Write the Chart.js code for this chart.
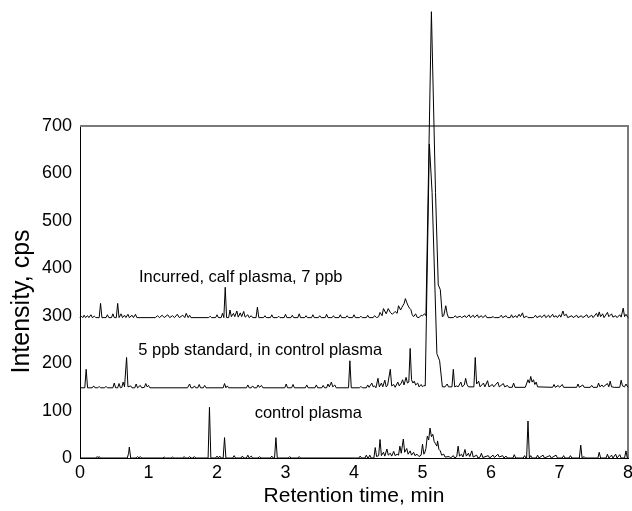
<!DOCTYPE html>
<html>
<head>
<meta charset="utf-8">
<script src="https://cdn.jsdelivr.net/npm/chart.js@4/dist/chart.umd.min.js"></script>
<style>
html,body{margin:0;padding:0;background:#fff;}
canvas{display:block;}
</style>
</head>
<body>
<canvas id="c" width="632" height="511"></canvas>
<script>
// Axis tick values
const xTicks = [0, 1, 2, 3, 4, 5, 6, 7, 8];
const yTicks = [0, 100, 200, 300, 400, 500, 600, 700];

// Series: [retention time (min), intensity (cps)]
const incurred = [
[0,296],[0.02,299],[0.04,296],[0.06,301],[0.08,296],[0.11,300],[0.13,296],[0.16,302],[0.18,296],[0.21,299],[0.23,296],
[0.28,296],[0.30,326],[0.32,296],[0.38,296],[0.40,302],[0.42,296],[0.46,296],[0.48,304],[0.50,296],
[0.53,296],[0.55,326],[0.57,296],[0.60,304],[0.62,296],[0.65,301],[0.67,296],[0.70,303],[0.72,296],[0.76,301],[0.78,296],[0.81,303],[0.83,296],
[1.10,296],[1.13,300],[1.16,296],[1.20,301],[1.23,296],[1.28,302],[1.31,296],[1.35,300],[1.38,296],[1.42,303],[1.45,296],[1.50,301],[1.53,296],[1.55,305],[1.58,296],[1.60,301],[1.62,296],
[1.88,296],[1.90,299],[1.92,296],[1.98,296],[2.00,302],[2.02,296],[2.06,296],[2.08,305],[2.10,296],[2.12,360],[2.14,296],[2.17,296],[2.19,312],[2.21,298],[2.24,305],[2.26,298],[2.29,310],[2.31,297],[2.34,306],[2.36,298],[2.39,309],[2.41,297],[2.45,302],[2.47,296],[2.50,300],[2.52,296],[2.57,296],[2.59,318],[2.61,296],
[2.68,296],[2.70,300],[2.72,296],[2.78,296],[2.80,302],[2.82,296],[2.88,296],[2.90,299],[2.92,296],[2.98,296],[3.00,303],[3.02,296],[3.08,296],[3.10,301],[3.12,296],[3.18,296],[3.20,304],[3.22,296],[3.28,296],[3.30,300],[3.32,296],[3.38,296],[3.40,302],[3.42,296],[3.48,296],[3.50,300],[3.52,296],[3.58,296],[3.60,303],[3.62,296],[3.68,296],[3.70,300],[3.72,296],[3.78,296],[3.80,302],[3.82,296],[3.88,296],[3.90,300],[3.92,296],[3.98,296],[4.00,302],[4.02,296],[4.08,296],[4.10,299],[4.12,296],[4.18,296],[4.20,301],[4.22,296],[4.28,296],[4.30,300],[4.33,296],
[4.36,298],[4.38,307],[4.41,300],[4.43,315],[4.47,304],[4.50,315],[4.53,307],[4.56,303],[4.60,309],[4.63,305],[4.65,321],[4.68,312],[4.70,318],[4.73,325],[4.75,336],[4.77,328],[4.79,321],[4.81,316],[4.83,313],[4.85,302],[4.87,298],[4.90,304],[4.92,297],[4.95,296],[4.98,301],[5.00,300],[5.03,304],[5.05,300],
[5.13,941],[5.19,560],[5.23,365],[5.26,355],[5.29,298],[5.31,300],[5.34,321],[5.36,304],[5.38,296],
[5.45,296],[5.48,300],[5.50,296],[5.55,299],[5.57,296],[5.62,300],[5.64,296],[5.68,302],[5.70,296],[5.74,301],[5.76,296],[5.80,302],[5.82,296],[5.86,300],[5.88,296],[5.92,301],[5.94,296],[6.00,296],[6.03,298],[6.05,296],[6.12,296],[6.15,301],[6.17,296],[6.22,300],[6.24,296],[6.28,296],[6.30,302],[6.32,296],[6.36,300],[6.38,296],[6.41,303],[6.43,298],[6.46,306],[6.48,296],[6.52,299],[6.54,296],[6.62,296],[6.65,301],[6.67,296],[6.72,300],[6.74,296],[6.78,302],[6.80,296],[6.84,301],[6.86,296],[6.90,303],[6.92,297],[6.95,300],[6.97,296],[7.00,302],[7.02,297],[7.05,310],[7.07,300],[7.10,303],[7.12,296],[7.18,300],[7.20,296],[7.25,301],[7.27,296],[7.32,300],[7.34,296],[7.40,302],[7.42,296],[7.47,301],[7.49,296],[7.54,305],[7.56,298],[7.58,308],[7.60,298],[7.63,304],[7.65,296],[7.70,307],[7.72,298],[7.76,304],[7.78,297],[7.82,300],[7.84,296],[7.88,302],[7.90,297],[7.93,316],[7.95,298],[7.97,303],[8.00,296]
];

const standard5ppb = [
[0,148],[0.07,148],[0.09,187],[0.11,148],[0.18,148],[0.20,152],[0.22,148],[0.26,148],[0.28,151],[0.30,148],[0.36,148],[0.38,151],[0.40,148],[0.48,148],[0.50,158],[0.52,148],[0.55,148],[0.57,157],[0.59,148],[0.61,149],[0.63,160],[0.65,150],[0.68,212],[0.70,150],[0.74,152],[0.76,148],[0.80,148],[0.82,156],[0.84,148],[0.88,153],[0.90,148],[0.94,149],[0.96,157],[0.98,150],[1.00,153],[1.02,148],
[1.57,148],[1.60,156],[1.62,148],[1.65,148],[1.67,152],[1.69,148],[1.72,148],[1.74,155],[1.76,148],[1.80,148],[1.82,153],[1.84,148],
[2.09,148],[2.11,157],[2.13,148],[2.15,152],[2.17,148],
[2.43,148],[2.45,154],[2.47,148],[2.50,148],[2.52,152],[2.54,148],[2.58,148],[2.60,154],[2.62,149],[2.65,153],[2.67,148],
[2.99,148],[3.01,156],[3.03,148],[3.09,148],[3.11,155],[3.13,148],[3.29,148],[3.31,154],[3.33,148],
[3.43,148],[3.45,154],[3.47,148],[3.53,148],[3.55,153],[3.57,148],[3.60,148],[3.62,156],[3.64,150],[3.67,160],[3.69,150],[3.72,154],[3.74,148],
[3.92,148],[3.94,205],[3.96,148],
[4.08,148],[4.10,151],[4.12,148],[4.18,148],[4.20,154],[4.22,149],[4.26,158],[4.28,150],[4.30,152],[4.32,148],[4.35,168],[4.37,150],[4.40,158],[4.42,150],[4.45,164],[4.47,150],[4.49,153],[4.53,187],[4.55,152],[4.58,155],[4.60,149],[4.64,160],[4.66,152],[4.69,158],[4.71,165],[4.73,154],[4.76,170],[4.78,158],[4.80,160],[4.82,231],[4.84,165],[4.86,158],[4.88,162],[4.90,154],[4.93,158],[4.95,150],[4.98,155],[5.00,150],[5.02,153],[5.04,152],
[5.10,662],[5.14,560],[5.21,220],[5.25,205],[5.29,150],[5.33,150],[5.36,156],[5.38,150],[5.43,150],[5.45,187],[5.47,150],[5.50,152],[5.52,150],[5.56,160],[5.58,150],[5.61,154],[5.63,168],[5.65,155],[5.67,150],[5.75,150],[5.77,212],[5.79,156],[5.82,162],[5.84,150],[5.89,158],[5.91,150],[5.95,163],[5.97,150],[6.02,155],[6.04,150],[6.10,160],[6.12,150],[6.18,157],[6.20,150],[6.24,153],[6.26,149],[6.31,149],[6.33,158],[6.35,149],
[6.50,149],[6.54,165],[6.56,158],[6.58,172],[6.60,160],[6.62,165],[6.64,155],[6.66,160],[6.68,150],
[6.90,149],[6.92,155],[6.94,149],[6.98,153],[7.00,149],[7.04,155],[7.06,149],
[7.25,149],[7.27,156],[7.29,149],[7.34,154],[7.36,149],[7.45,149],[7.47,153],[7.49,149],[7.55,149],[7.57,158],[7.59,150],[7.62,154],[7.64,150],[7.70,157],[7.72,150],[7.74,162],[7.76,150],[7.80,149],
[7.88,149],[7.90,164],[7.92,152],[7.95,150],[7.97,156],[8.00,149]
];

const controlPlasma = [
[0,0],[0.23,0],[0.25,3],[0.27,0],[0.28,3],[0.30,0],[0.69,0],[0.71,10],[0.72,23],[0.74,0],[0.82,0],[0.84,3],[0.86,0],[0.88,3],[0.90,0],[1.21,0],[1.23,2],[1.25,0],[1.33,0],[1.35,2],[1.37,0],[1.50,0],[1.52,3],[1.54,0],[1.58,0],[1.60,3],[1.62,0],[1.65,0],[1.67,3],[1.69,0],[1.87,0],[1.89,107],[1.91,0],[1.98,0],[2.00,4],[2.02,0],[2.04,4],[2.06,0],[2.09,0],[2.11,43],[2.13,0],[2.23,0],[2.25,5],[2.27,0],[2.35,0],[2.37,4],[2.39,0],[2.43,0],[2.45,6],[2.47,0],[2.48,0],[2.50,4],[2.52,0],[2.60,0],[2.62,3],[2.64,0],[2.78,0],[2.80,4],[2.82,0],[2.84,0],[2.86,43],[2.88,0],[3.04,0],[3.06,3],[3.08,0],[3.18,0],[3.20,3],[3.22,0],
[4.07,0],[4.09,4],[4.11,0],[4.16,0],[4.18,6],[4.20,0],[4.21,0],[4.23,6],[4.25,0],[4.29,0],[4.31,22],[4.33,3],[4.36,5],[4.38,39],[4.40,5],[4.43,12],[4.45,4],[4.48,19],[4.50,6],[4.53,10],[4.55,4],[4.58,14],[4.60,5],[4.63,8],[4.65,6],[4.67,25],[4.69,10],[4.72,40],[4.74,12],[4.77,20],[4.79,8],[4.82,15],[4.84,6],[4.87,12],[4.89,5],[4.92,8],[4.95,3],[4.98,6],[5.00,29],[5.02,8],[5.03,10],[5.05,20],[5.07,46],[5.09,38],[5.11,63],[5.13,45],[5.15,50],[5.17,35],[5.19,30],[5.21,25],[5.22,36],[5.24,18],[5.26,15],[5.28,6],[5.31,8],[5.33,2],[5.39,3],[5.41,0],[5.45,5],[5.47,0],[5.50,3],[5.52,25],[5.54,4],[5.57,8],[5.59,2],[5.62,18],[5.64,4],[5.67,10],[5.69,3],[5.72,15],[5.74,2],[5.79,6],[5.81,0],[5.84,2],[5.86,10],[5.88,1],[5.96,5],[5.98,0],[6.03,6],[6.05,1],[6.10,8],[6.12,2],[6.17,5],[6.19,0],[6.22,4],[6.24,0],[6.32,0],[6.34,7],[6.36,0],[6.47,0],[6.49,5],[6.51,0],[6.52,0],[6.54,78],[6.56,0],[6.58,5],[6.60,0],[6.66,0],[6.68,6],[6.70,0],[6.76,6],[6.78,0],[6.86,5],[6.88,0],[6.95,6],[6.97,0],[7.04,0],[7.06,5],[7.08,0],[7.14,0],[7.16,5],[7.18,0],[7.29,0],[7.31,27],[7.33,0],[7.36,3],[7.38,0],[7.56,0],[7.58,12],[7.60,0],[7.68,0],[7.70,8],[7.72,0],[7.76,6],[7.78,0],[7.82,8],[7.84,0],[7.88,7],[7.90,0],[7.95,0],[7.97,15],[7.99,0],[8.00,0]
];

// Trace labels and axis titles
const traceLabels = ["Incurred, calf plasma, 7 ppb", "5 ppb standard, in control plasma", "control plasma"];
const xTitle = 'Retention time, min';
const yTitle = 'Intensity, cps';

const FONT = "'Liberation Sans', Arial, Helvetica, sans-serif";

const toXY = arr => arr.map(p => ({x: p[0], y: p[1]}));

const labelAnchors = [ {x: 0.86, y: 380}, {x: 0.85, y: 227}, {x: 2.55, y: 94} ];

const framePlugin = {
  id: 'frame',
  beforeDatasetsDraw(chart) {
    const {ctx, chartArea: a} = chart;
    ctx.save();
    ctx.strokeStyle = '#7a7a7a';
    ctx.lineWidth = 2;
    ctx.beginPath();
    ctx.moveTo(a.left, a.top);
    ctx.lineTo(a.right, a.top);
    ctx.lineTo(a.right, a.bottom);
    ctx.stroke();
    ctx.restore();
  },
  afterDatasetsDraw(chart) {
    const {ctx, scales} = chart;
    ctx.save();
    ctx.fillStyle = '#000';
    ctx.font = '16.5px ' + FONT;
    ctx.textAlign = 'left';
    ctx.textBaseline = 'middle';
    traceLabels.forEach((t, i) => {
      const p = labelAnchors[i];
      ctx.fillText(t, scales.x.getPixelForValue(p.x), scales.y.getPixelForValue(p.y));
    });
    // rotated y-axis title
    ctx.font = '25px ' + FONT;
    ctx.textAlign = 'center';
    ctx.translate(22, scales.y.getPixelForValue(330));
    ctx.rotate(-Math.PI / 2);
    ctx.fillText(yTitle, 0, 0);
    ctx.restore();
  }
};

const lineStyle = {borderColor: '#000', borderWidth: 1, pointRadius: 0, tension: 0, fill: false, clip: false};

new Chart(document.getElementById('c'), {
  type: 'line',
  data: {
    datasets: [
      Object.assign({label: traceLabels[2], data: toXY(controlPlasma)}, lineStyle),
      Object.assign({label: traceLabels[1], data: toXY(standard5ppb)}, lineStyle),
      Object.assign({label: traceLabels[0], data: toXY(incurred)}, lineStyle)
    ]
  },
  options: {
    responsive: false,
    animation: false,
    events: [],
    layout: {padding: {top: 126, right: 4, left: 0, bottom: 0}},
    plugins: {legend: {display: false}, tooltip: {enabled: false}},
    scales: {
      x: {
        type: 'linear', min: 0, max: 8,
        afterBuildTicks(s) { s.ticks = xTicks.map(v => ({value: v})); },
        ticks: {color: '#000', padding: 4, maxRotation: 0, font: {family: FONT, size: 18}},
        grid: {display: false, drawTicks: false},
        border: {display: true, color: '#000', width: 1},
        title: {display: true, text: xTitle, color: '#000', font: {family: FONT, size: 21}, padding: {top: 0, bottom: 2}},
        afterFit(s) { s.height = 53; s.paddingLeft = 0; s.paddingRight = 0; }
      },
      y: {
        min: 0, max: 700,
        afterBuildTicks(s) { s.ticks = yTicks.map(v => ({value: v})); },
        ticks: {color: '#000', padding: 8, font: {family: FONT, size: 18}},
        grid: {display: false, drawTicks: false},
        border: {display: true, color: '#000', width: 1},
        title: {display: false},
        afterFit(s) { s.width = 80; s.paddingTop = 0; s.paddingBottom = 0; }
      }
    }
  },
  plugins: [framePlugin]
});
</script>
</body>
</html>
